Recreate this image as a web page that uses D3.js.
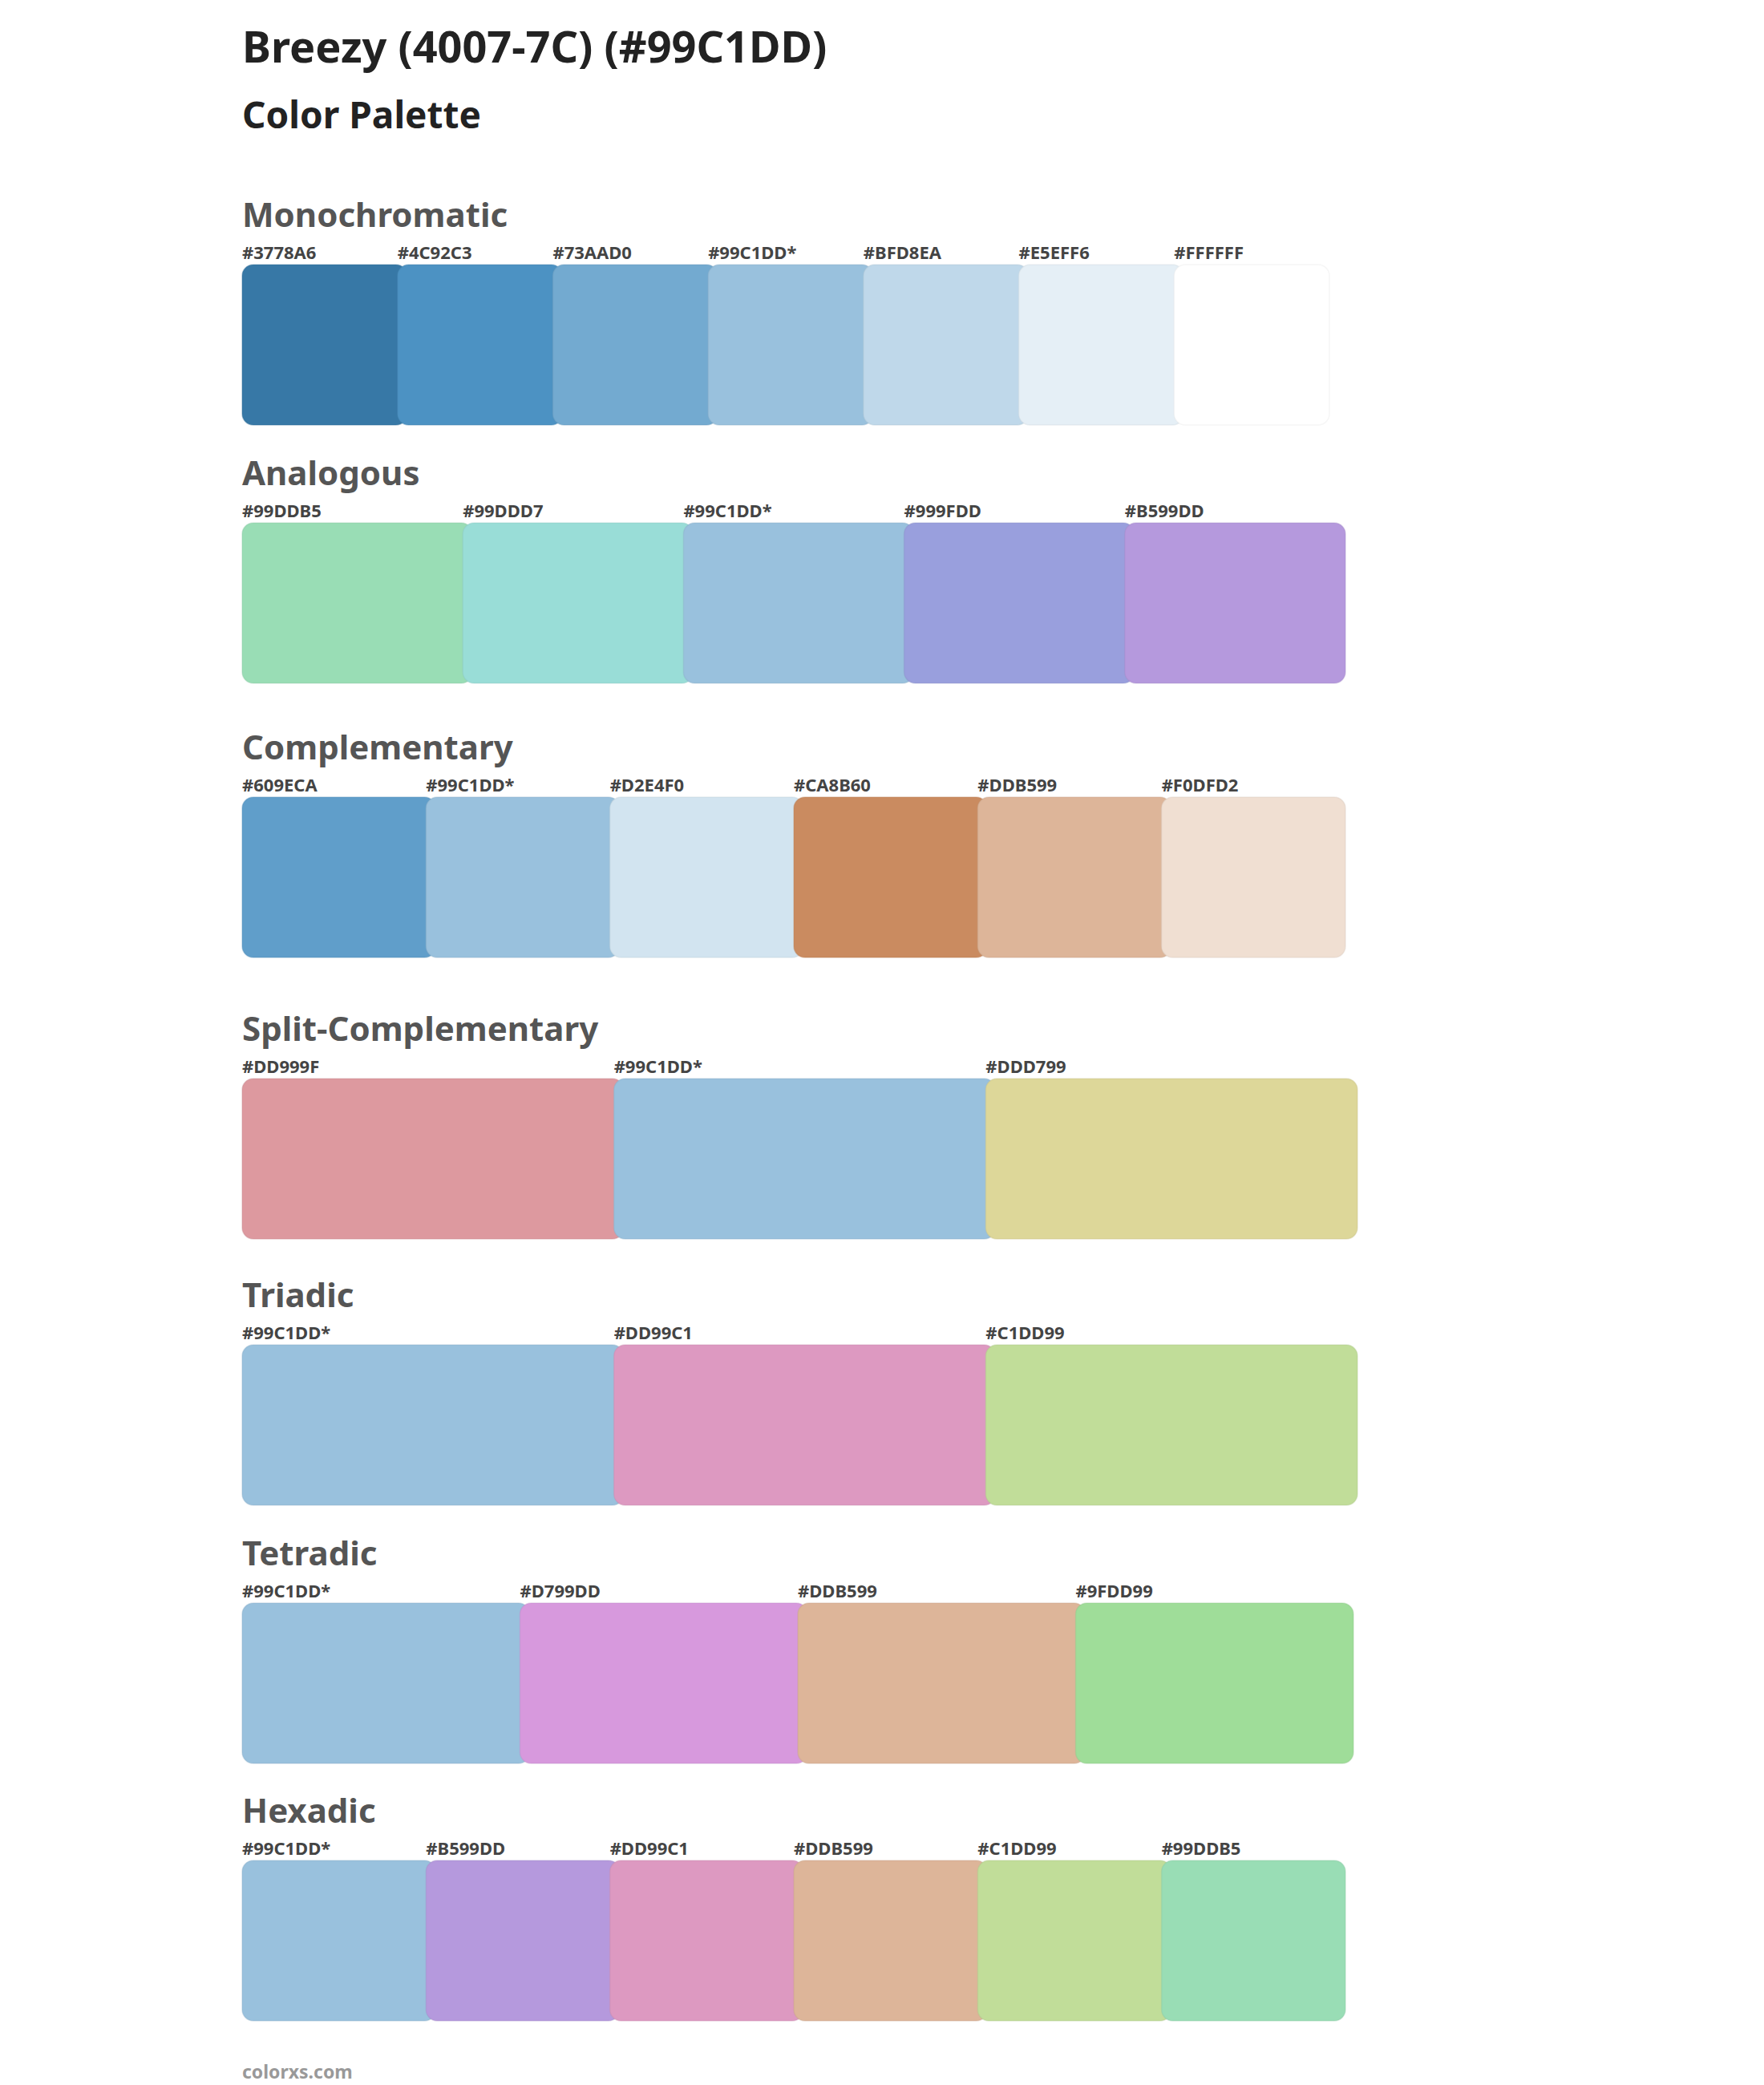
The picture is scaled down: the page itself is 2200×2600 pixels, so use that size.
<!DOCTYPE html>
<html><head><meta charset="utf-8">
<script src="https://cdn.jsdelivr.net/npm/d3@7"></script>
<style>body{margin:0;background:#fff}</style></head>
<body><svg id="c" width="2200" height="2600"></svg>
<script>
const title = "Breezy (4007-7C) (#99C1DD)";
const subtitle = "Color Palette";
const footer = "colorxs.com";
const sectionNames = ["Monochromatic","Analogous","Complementary","Split-Complementary","Triadic","Tetradic","Hexadic"];
const monochromatic = ["#3778A6","#4C92C3","#73AAD0","#99C1DD*","#BFD8EA","#E5EFF6","#FFFFFF"];
const analogous = ["#99DDB5","#99DDD7","#99C1DD*","#999FDD","#B599DD"];
const complementary = ["#609ECA","#99C1DD*","#D2E4F0","#CA8B60","#DDB599","#F0DFD2"];
const splitComplementary = ["#DD999F","#99C1DD*","#DDD799"];
const triadic = ["#99C1DD*","#DD99C1","#C1DD99"];
const tetradic = ["#99C1DD*","#D799DD","#DDB599","#9FDD99"];
const hexadic = ["#99C1DD*","#B599DD","#DD99C1","#DDB599","#C1DD99","#99DDB5"];
const palettes = [monochromatic,analogous,complementary,splitComplementary,triadic,tetradic,hexadic];
// layout
const headY = [283,605,947,1298,1630,1952,2273];
const rightEdge = [1658,1678,1678,1693,1693,1688,1678];
const left = 302, swH = 200;

const svg = d3.select("#c");
const F = "'Noto Sans', sans-serif";
svg.append("text").attr("x",left).attr("y",78).attr("font-family",F).attr("font-weight",700)
  .attr("font-size",54).attr("fill","#222").text(title);
svg.append("text").attr("x",left).attr("y",160).attr("font-family",F).attr("font-weight",700)
  .attr("font-size",46).attr("fill","#222").text(subtitle);

palettes.forEach((pal,i)=>{
  const g = svg.append("g");
  const y0 = headY[i];
  g.append("text").attr("x",left).attr("y",y0).attr("font-family",F).attr("font-weight",700)
    .attr("font-size",42).attr("fill","#555").text(sectionNames[i]);
  const x = d3.scaleBand().domain(d3.range(pal.length)).range([left,rightEdge[i]]).padding(0);
  const bw = x.bandwidth();
  pal.forEach((c,j)=>{
    const hex = c.replace("*","");
    const last = j===pal.length-1;
    g.append("rect").attr("x",x(j)).attr("y",y0+47).attr("width",last?bw:bw+12).attr("height",swH)
      .attr("rx",14).attr("fill",hex).attr("stroke",d3.color(hex).darker(0.3)).attr("stroke-opacity",0.35).attr("stroke-width",1.5);
    g.append("text").attr("x",x(j)).attr("y",y0+40).attr("font-family",F).attr("font-weight",700)
      .attr("font-size",22).attr("fill","#444").text(c);
  });
});
svg.append("text").attr("x",left).attr("y",2592).attr("font-family",F).attr("font-weight",700)
  .attr("font-size",23).attr("fill","#999").text(footer);
</script></body></html>
